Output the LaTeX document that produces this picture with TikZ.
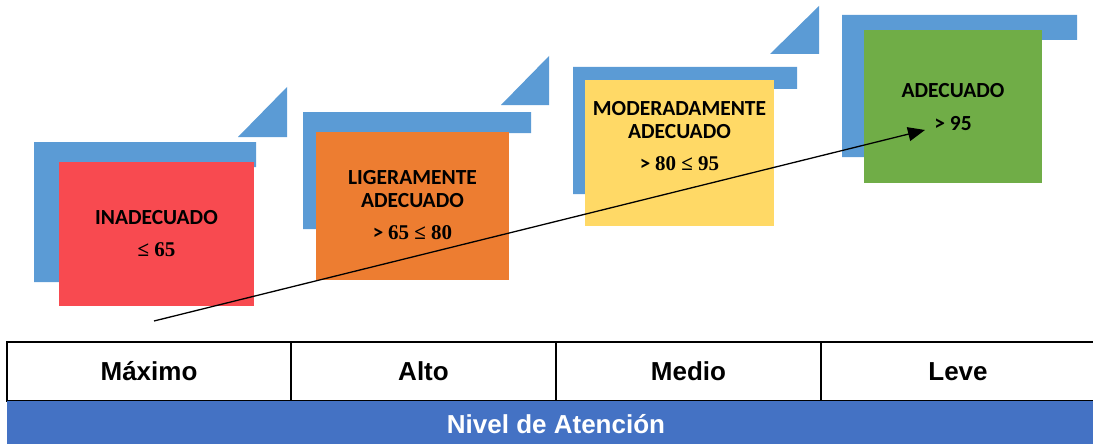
\documentclass[tikz,border=0pt]{standalone}
\usepackage{fontspec}
\setmainfont{Carlito}
\newfontfamily\tmsfont{Liberation Serif}
\newfontfamily\arlfont{Liberation Sans}
\usetikzlibrary{arrows.meta}
\definecolor{lblue}{HTML}{5B9BD5}
\definecolor{cred}{HTML}{F84A50}
\definecolor{corange}{HTML}{ED7D31}
\definecolor{cyellow}{HTML}{FFD966}
\definecolor{cgreen}{HTML}{70AD47}
\definecolor{barblue}{HTML}{4472C4}
\tikzset{
  frameL/.style={fill=lblue, draw=none},
  corner/.style={fill=lblue, draw=none},
  box/.style={draw=none, inner sep=0pt, outer sep=0pt},
  lbl/.style={inner sep=0pt, font=\fontsize{21.5}{24}\selectfont\bfseries},
  numlbl/.style={inner sep=0pt, font=\fontsize{21}{24}\selectfont\bfseries},
  arr/.style={line width=1.3pt, -{Triangle[length=17pt,width=14pt]}},
  cell/.style={draw=black, line width=1.5pt, inner sep=0pt, minimum height=59pt,
    font=\arlfont\bfseries\fontsize{26}{30}\selectfont},
  bartext/.style={inner sep=0pt, text=white, font=\arlfont\bfseries\fontsize{26}{30}\selectfont}
}
\begin{document}
\begin{tikzpicture}[x=1pt,y=-1pt]
\useasboundingbox (0,0) rectangle (1093,444);
% ---------- block 1
\fill[frameL] (34,142) -- (256,142) -- (256,167) -- (59,167) -- (59,282) -- (34,282) -- cycle;
\fill[corner] (238,137) -- (287,137) -- (287,87) -- cycle;
\node[box, fill=cred, minimum width=195pt, minimum height=144pt] (r1) at (156.5,234) {};
\node[lbl, anchor=base] (t1a) at (156.5,224) {INADECUADO};
\node[numlbl, anchor=base] (t1b) at (156.5,256) {\tmsfont\bfseries ≤ 65};
% ---------- block 2
\fill[frameL] (303,112) -- (531,112) -- (531,133) -- (324,133) -- (324,229) -- (303,229) -- cycle;
\fill[corner] (501,105) -- (549,105) -- (549,56) -- cycle;
\node[box, fill=corange, minimum width=193pt, minimum height=148pt] (r2) at (412.5,206) {};
\node[lbl, anchor=base] (t2a) at (412.5,184) {LIGERAMENTE};
\node[lbl, anchor=base] (t2b) at (412.5,207) {ADECUADO};
\node[numlbl, anchor=base] (t2c) at (412.5,239) {> {\tmsfont\bfseries 65 ≤ 80}};
% ---------- block 3
\fill[frameL] (573,67) -- (797,67) -- (797,89) -- (595,89) -- (595,194) -- (573,194) -- cycle;
\fill[corner] (770,54) -- (819,54) -- (819,6) -- cycle;
\node[box, fill=cyellow, minimum width=189pt, minimum height=146pt] (r3) at (679.5,153) {};
\node[lbl, anchor=base] (t3a) at (679.5,115) {MODERADAMENTE};
\node[lbl, anchor=base] (t3b) at (679.5,139) {ADECUADO};
\node[numlbl, anchor=base] (t3c) at (679.5,170) {> {\tmsfont\bfseries 80 ≤ 95}};
% ---------- block 4
\fill[frameL] (842,15) -- (1077,15) -- (1077,40) -- (867,40) -- (867,157) -- (842,157) -- cycle;
\node[box, fill=cgreen, minimum width=178pt, minimum height=153pt] (r4) at (953,106.5) {};
\node[lbl, anchor=base] (t4a) at (953,97) {ADECUADO};
\node[lbl, anchor=base] (t4b) at (953,130) {> 95};
% ---------- arrow
\coordinate (as) at (154,321);
\coordinate (ae) at (925,130);
\draw[arr] (as) -- (ae);
% ---------- table
\node[cell, minimum width=284pt] (c1) at (149,371.5) {Máximo};
\node[cell, minimum width=265pt] (c2) at (423.5,371.5) {Alto};
\node[cell, minimum width=265pt] (c3) at (688.5,371.5) {Medio};
\node[cell, minimum width=274pt] (c4) at (958,371.5) {Leve};
\node[box, fill=barblue, minimum width=1088pt, minimum height=43pt, anchor=north west] (bar) at (7,401) {};
\node[bartext, anchor=base] (bart) at (556,433) {Nivel de Atención};
\end{tikzpicture}
\end{document}
